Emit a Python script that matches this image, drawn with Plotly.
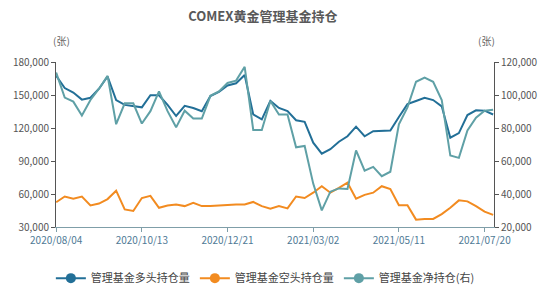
import plotly.graph_objects as go
import pandas as pd

# weekly report dates (Tuesdays; 2020/12/21 shifted for holiday)
dates = [d.strftime("%Y/%m/%d") for d in pd.date_range("2020-08-04", periods=52, freq="7D")]
dates = ["2020/12/21" if d == "2020/12/22" else d for d in dates]

long_pos = [167.4, 156.3, 152.2, 145.8, 147.5, 155.7, 166.8, 145.4, 141.0, 140.2,
            138.8, 149.8, 149.8, 141.0, 130.9, 140.2, 138.2, 135.3, 149.0, 152.8,
            158.6, 160.7, 168.2, 132.3, 127.9, 144.6, 138.2, 135.3, 127.0, 125.6,
            106.6, 96.7, 100.7, 107.5, 112.5, 121.2, 112.5, 117.1, 117.7, 117.7,
            130.0, 141.7, 144.6, 147.5, 145.4, 139.7, 111.2, 115.4, 131.8, 136.1,
            135.8, 132.3]
short_pos = [52.5, 57.7, 55.7, 57.7, 49.6, 51.3, 55.4, 63.0, 46.0, 44.6,
             56.3, 58.3, 47.5, 49.6, 50.4, 49.0, 51.9, 49.0, 49.0, 49.8,
             50.0, 50.4, 50.4, 52.8, 49.0, 46.7, 49.0, 46.9, 57.7, 56.3,
             61.2, 67.1, 61.2, 65.6, 70.3, 55.7, 59.2, 61.2, 67.1, 64.5,
             49.8, 49.8, 36.7, 37.3, 37.3, 41.7, 47.5, 54.2, 53.3, 49.0,
             44.0, 41.0]
net_pos = [113.6, 98.4, 96.0, 87.6, 97.0, 103.8, 111.6, 82.3, 95.0, 95.0,
           82.7, 90.2, 102.2, 90.2, 80.4, 90.5, 85.7, 85.7, 99.5, 102.2,
           107.3, 108.7, 117.1, 78.8, 78.8, 96.4, 88.2, 88.2, 68.3, 69.1,
           46.3, 30.1, 41.4, 43.4, 43.0, 66.4, 54.1, 56.4, 50.8, 53.5,
           82.3, 92.5, 108.0, 110.6, 108.0, 97.0, 63.3, 61.9, 78.5, 86.3,
           90.5, 91.1]
long_pos = [v * 1000 for v in long_pos]
short_pos = [v * 1000 for v in short_pos]
net_pos = [v * 1000 for v in net_pos]

names = ["管理基金多头持仓量", "管理基金空头持仓量", "管理基金净持仓(右)"]
colors = ["#226f97", "#f28b20", "#5fa0a6"]
tick_dates = ["2020/08/04", "2020/10/13", "2020/12/21", "2021/03/02", "2021/05/11", "2021/07/20"]

FONT = "Noto Sans CJK SC, Open Sans, sans-serif"

fig = go.Figure()
series = [(long_pos, "y"), (short_pos, "y"), (net_pos, "y2")]
for (vals, ax), name, c in zip(series, names, colors):
    fig.add_trace(go.Scatter(x=dates, y=vals, mode="lines", yaxis=ax,
                             line=dict(color=c, width=2), showlegend=False,
                             hoverinfo="skip"))
for (vals, ax), name, c in zip(series, names, colors):
    fig.add_trace(go.Scatter(x=[None], y=[None], mode="lines+markers", yaxis=ax,
                             name=name, line=dict(color=c, width=2),
                             marker=dict(color=c, size=10)))

fig.update_layout(
    width=550, height=305,
    margin=dict(l=56, r=52, t=62, b=71),
    paper_bgcolor="white", plot_bgcolor="white",
    font=dict(family=FONT, size=10, color="#555555"),
    title=dict(text="<b>COMEX黄金管理基金持仓</b>", x=0.478, xanchor="center",
               y=0.945, yanchor="middle",
               font=dict(family=FONT, size=13, color="#595959")),
    xaxis=dict(type="category", range=[-0.02, 51.1], tickmode="array",
               tickvals=tick_dates, ticktext=tick_dates, showgrid=False,
               showline=True, linecolor="#7f9ea8", linewidth=1,
               ticks="outside", ticklen=4, tickcolor="#7f9ea8",
               tickfont=dict(color="#4f7a96", size=10), zeroline=False),
    yaxis=dict(range=[30000, 180000], dtick=30000, tickformat=",",
               showgrid=False, showline=True, linecolor="#555555", linewidth=1,
               ticks="outside", ticklen=4, tickcolor="#555555", zeroline=False,
               tickfont=dict(color="#555555", size=10)),
    yaxis2=dict(range=[20000, 120000], dtick=20000, tickformat=",",
                overlaying="y", side="right", anchor="x",
                showgrid=False, showline=True, linecolor="#555555", linewidth=1,
                ticks="outside", ticklen=4, tickcolor="#555555", zeroline=False,
                tickfont=dict(color="#555555", size=10)),
    legend=dict(orientation="h", x=0.478, xanchor="center", y=-0.31, yanchor="middle",
                font=dict(size=11, color="#444444"), itemwidth=30,
                bgcolor="rgba(0,0,0,0)"),
    annotations=[
        dict(text="(张)", x=0.01, xref="paper", y=40, yref="paper", yanchor="middle",
             showarrow=False, font=dict(size=10, color="#666666")),
    ],
)
# place unit labels in pixel-based paper coords
fig.layout.annotations = []
for xp in (62 / 550, 490 / 550):
    fig.add_annotation(text="(张)", x=(xp * 550 - 56) / 442, xref="paper",
                       y=(305 - 71 - 40) / 172, yref="paper", yanchor="middle",
                       xanchor="center", showarrow=False,
                       font=dict(size=10, color="#666666"))

fig.write_html("out.html")
